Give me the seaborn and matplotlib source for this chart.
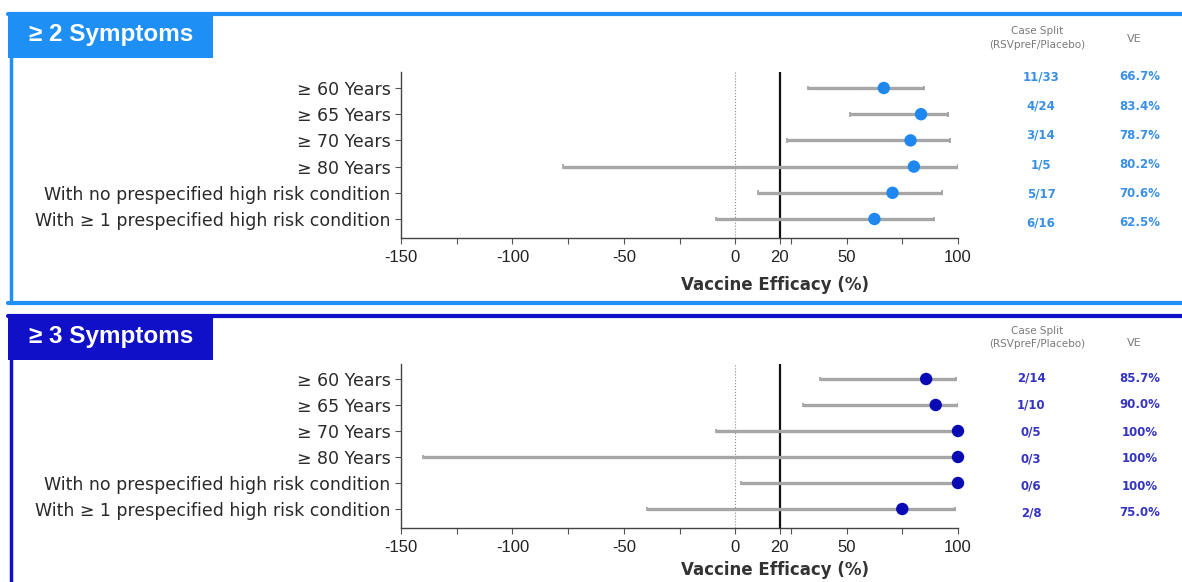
import matplotlib
matplotlib.use("Agg")
import matplotlib.pyplot as plt
import seaborn as sns
import pandas as pd
from matplotlib.patches import Rectangle

sns.set_style("white")
plt.rcParams['font.family'] = ['Liberation Sans', 'DejaVu Sans']

subgroups = ["≥ 60 Years", "≥ 65 Years", "≥ 70 Years", "≥ 80 Years",
             "With no prespecified high risk condition",
             "With ≥ 1 prespecified high risk condition"]

ve2 = [66.7, 83.4, 78.7, 80.2, 70.6, 62.5]
lo2 = [32.8, 51.6, 23.1, -77.4, 10.3, -8.7]
hi2 = [84.9, 95.5, 96.4, 100.0, 93.0, 89.2]
split2 = ["11/33", "4/24", "3/14", "1/5", "5/17", "6/16"]
vetxt2 = ["66.7%", "83.4%", "78.7%", "80.2%", "70.6%", "62.5%"]

ve3 = [85.7, 90.0, 100.0, 100.0, 100.0, 75.0]
lo3 = [38.1, 30.6, -8.4, -140.0, 2.6, -39.4]
hi3 = [99.2, 100.0, 100.0, 100.0, 100.0, 98.8]
split3 = ["2/14", "1/10", "0/5", "0/3", "0/6", "2/8"]
vetxt3 = ["85.7%", "90.0%", "100%", "100%", "100%", "75.0%"]

xticks = [-150, -100, -50, 0, 20, 50, 100]
minor_ticks = [-125, -75, -25, 25, 75]

W, H = 1182, 582
fig = plt.figure(figsize=(W / 100, H / 100), dpi=100)


def fx(x):
    return x / W


def fy(y):
    return 1 - y / H


def panel(top_px, bottom_px, color, title, ve, lo, hi, split, vetxt,
          ax_top, ax_bot, row0, row_step, mcolor, tcolor,
          trow0, tstep, split_x, xlabel_y, hdr_y, bottom_border=True):
    # borders
    fig.add_artist(plt.Line2D([fx(8), fx(W)], [fy(top_px), fy(top_px)],
                              color=color, lw=3, transform=fig.transFigure))
    fig.add_artist(plt.Line2D([fx(11), fx(11)], [fy(top_px), fy(bottom_px)],
                              color=color, lw=2.5, transform=fig.transFigure))
    if bottom_border:
        fig.add_artist(plt.Line2D([fx(8), fx(W)], [fy(bottom_px), fy(bottom_px)],
                                  color=color, lw=3, transform=fig.transFigure))
    fig.add_artist(Rectangle((fx(8), fy(top_px + 44)), fx(205), 44 / H,
                             facecolor=color, edgecolor='none',
                             transform=fig.transFigure))
    fig.text(fx(29), fy(top_px + 21), title, color='white', fontsize=17.5,
             fontweight='bold', va='center', ha='left')

    h = ax_bot - ax_top
    ax = fig.add_axes([fx(401), fy(ax_bot), fx(557), h / H])
    n = len(ve)
    ylo = -(row0 - ax_top) / row_step
    yhi = (n - 1) + (ax_bot - (row0 + (n - 1) * row_step)) / row_step
    df = pd.DataFrame({"sub": subgroups, "y": list(range(n)), "ve": ve,
                       "lo": lo, "hi": hi})
    ax.axvline(0, color='#888888', lw=0.8, ls=':', zorder=1)
    ax.axvline(20, color='#111111', lw=1.6, zorder=2)
    ax.hlines(df["y"], df["lo"], df["hi"], color='#a6a6a6', lw=2.4, zorder=3)
    ax.vlines(df["lo"], df["y"] - 0.09, df["y"] + 0.09, color='#a0a0a0', lw=1.2, zorder=3)
    ax.vlines(df["hi"], df["y"] - 0.09, df["y"] + 0.09, color='#a0a0a0', lw=1.2, zorder=3)
    sns.scatterplot(data=df, x="ve", y="y", ax=ax, color=mcolor, s=80,
                    edgecolor='none', zorder=4, legend=False, clip_on=False)
    ax.set_xlim(-150, 100)
    ax.set_ylim(yhi, ylo)
    ax.set_yticks(range(n))
    ax.set_yticklabels(subgroups, fontsize=12.5, color='#2a2a2a',
                       family=['DejaVu Sans'])
    ax.set_xticks(xticks)
    ax.set_xticklabels([str(t) for t in xticks], fontsize=12, color='#222222')
    ax.set_xticks(minor_ticks, minor=True)
    ax.tick_params(axis='both', which='both', direction='out', length=4,
                   width=0.8, color='#555555', left=True, bottom=True)
    ax.tick_params(axis='x', which='major', pad=5)
    ax.set_xlabel("Vaccine Efficacy (%)", fontsize=12, fontweight='bold',
                  color='#333333', family=['DejaVu Sans'])
    ax.xaxis.label.set_va('center')
    ax.xaxis.set_label_coords((775 - 401) / 557, -(xlabel_y - ax_bot) / h)
    ax.set_ylabel("")
    for s in ["top", "right"]:
        ax.spines[s].set_visible(False)
    for s in ["left", "bottom"]:
        ax.spines[s].set_color('#444444')
        ax.spines[s].set_linewidth(1.0)
    ax.patch.set_alpha(0)

    # table
    fig.text(fx(1037), fy(hdr_y[0]), "Case Split", fontsize=7.5,
             color='#7a7a7a', ha='center', va='center', family=['DejaVu Sans'])
    fig.text(fx(1037), fy(hdr_y[1]), "(RSVpreF/Placebo)", fontsize=7.5,
             color='#7a7a7a', ha='center', va='center', family=['DejaVu Sans'])
    fig.text(fx(1134), fy(hdr_y[2]), "VE", fontsize=8, color='#7a7a7a',
             ha='center', va='center', family=['DejaVu Sans'])
    for i in range(n):
        yy = trow0 + i * tstep
        fig.text(fx(split_x), fy(yy), split[i], fontsize=8.5, color=tcolor,
                 ha='center', va='center', fontweight='bold',
                 family=['DejaVu Sans'])
        fig.text(fx(1140), fy(yy), vetxt[i], fontsize=8.5, color=tcolor,
                 ha='center', va='center', fontweight='bold',
                 family=['DejaVu Sans'])
    return ax


panel(14, 303, '#1E90F5', "≥ 2 Symptoms", ve2, lo2, hi2, split2, vetxt2,
      72, 238, 88, 26.2, '#1E88F0', '#3A90E4',
      77, 29.2, 1041, 285, (31, 45, 39))
panel(316, 590, '#1010C8', "≥ 3 Symptoms", ve3, lo3, hi3, split3, vetxt3,
      364, 528, 379, 26.0, '#0A0AB4', '#3434C0',
      378, 27.0, 1031, 570, (331, 344, 343), bottom_border=False)

fig.savefig("out.png", dpi=100)
